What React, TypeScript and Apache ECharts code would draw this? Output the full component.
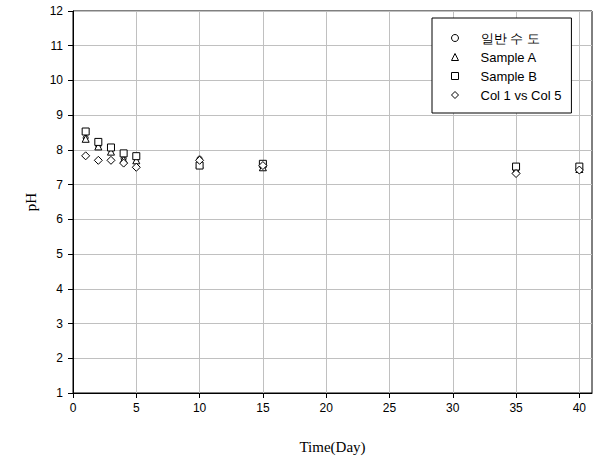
import React, { useEffect, useRef } from "react";
import * as echarts from "echarts";

const days = [1, 2, 3, 4, 5, 10, 15, 35, 40];
const seriesNames = ["일반 수 도", "Sample A", "Sample B", "Col 1 vs Col 5"];
const tapWater = [8.35, 8.1, 8.0, 7.75, 7.75, 7.75, 7.6, 7.4, 7.5];
const sampleA = [8.32, 8.1, 7.95, 7.72, 7.7, 7.58, 7.5, 7.42, 7.45];
const sampleB = [8.53, 8.23, 8.07, 7.9, 7.82, 7.55, 7.6, 7.52, 7.52];
const col1vs5 = [7.83, 7.7, 7.7, 7.62, 7.5, 7.7, 7.55, 7.32, 7.42];
const xTicks = [0, 5, 10, 15, 20, 25, 30, 35, 40];

export default function App() {
  const ref = useRef<HTMLDivElement>(null);
  useEffect(() => {
    if (!ref.current) return;
    const chart = echarts.init(ref.current, null, { renderer: "svg" });
    const mk = (name: string, vals: number[], symbol: string, size: number) => ({
      name,
      type: "scatter",
      symbol,
      symbolSize: size,
      data: days.map((d, i) => [d, vals[i]]),
      itemStyle: { color: "#fff", borderColor: "#000", borderWidth: 1, opacity: 1 },
      emphasis: { disabled: true },
      z: 3,
    });
    chart.setOption({
      animation: false,
      backgroundColor: "#fff",
      grid: {
        left: 73,
        top: 11,
        right: 8,
        bottom: 70,
        show: true,
        borderColor: "#000",
        borderWidth: 1,
        backgroundColor: "transparent",
      },
      legend: {
        orient: "vertical",
        left: 432,
        top: 18,
        padding: [13, 10, 11, 19],
        itemWidth: 7,
        itemHeight: 7,
        itemGap: 5,
        backgroundColor: "#fff",
        borderColor: "#000",
        borderWidth: 1,
        itemStyle: { color: "#fff", borderColor: "#000", borderWidth: 1 },
        textStyle: {
          fontFamily: "Liberation Sans, Arial, sans-serif",
          fontSize: 13,
          lineHeight: 14,
          color: "#000",
          padding: [0, 0, 0, 17],
        },
        data: seriesNames,
      },
      xAxis: {
        type: "value",
        min: 0,
        max: 41,
        name: "Time(Day)",
        nameLocation: "middle",
        nameGap: 46,
        nameTextStyle: {
          fontFamily: "Liberation Serif, Times New Roman, serif",
          fontSize: 15,
          color: "#000",
        },
        axisLine: { show: true, onZero: false, lineStyle: { color: "#000" } },
        axisTick: { show: true, inside: false, length: 5, customValues: xTicks, lineStyle: { color: "#000" } },
        axisLabel: {
          customValues: xTicks,
          margin: 9,
          fontFamily: "Liberation Sans, Arial, sans-serif",
          fontSize: 12,
          color: "#000",
        },
        splitLine: { show: true, lineStyle: { color: "#c0c0c0", width: 1 } },
      },
      yAxis: {
        type: "value",
        min: 1,
        max: 12,
        interval: 1,
        name: "pH",
        nameLocation: "middle",
        nameGap: 34,
        nameTextStyle: {
          fontFamily: "Liberation Serif, Times New Roman, serif",
          fontSize: 15,
          color: "#000",
        },
        axisLine: { show: true, onZero: false, lineStyle: { color: "#000" } },
        axisTick: { show: true, inside: false, length: 5, lineStyle: { color: "#000" } },
        axisLabel: {
          margin: 10,
          fontFamily: "Liberation Sans, Arial, sans-serif",
          fontSize: 12,
          color: "#000",
        },
        splitLine: { show: true, lineStyle: { color: "#c0c0c0", width: 1 } },
      },
      series: [
        mk(seriesNames[0], tapWater, "circle", 5),
        mk(seriesNames[1], sampleA, "triangle", 7),
        mk(seriesNames[2], sampleB, "rect", 7),
        mk(seriesNames[3], col1vs5, "diamond", 8),
      ],
    });
    return () => chart.dispose();
  }, []);
  return <div ref={ref} style={{ width: 600, height: 463, position: "absolute", left: 0, top: 0 }} />;
}
